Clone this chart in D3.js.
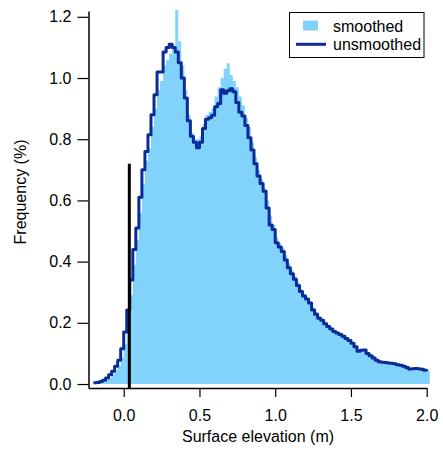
<html>
<head>
<script src="https://d3js.org/d3.v7.min.js"></script>
<style>
body { margin: 0; background: white; }
text { font-family: "Liberation Sans", Arial, sans-serif; }
</style>
</head>
<body>
<svg width="443" height="451"></svg>
<script>
// histogram bins: left edge of each bin (m)
var binWidth = 0.02;
var binEdges = d3.range(0, 111).map(function(i) { return +(-0.2 + i * binWidth).toFixed(2); });

// frequency (%) per bin
var unsmoothed = [
  0.004, 0.005, 0.008, 0.012, 0.020, 0.030, 0.042, 0.058, 0.078, 0.115,
  0.170, 0.242, 0.340, 0.440, 0.510, 0.610, 0.700, 0.760, 0.815, 0.880,
  0.945, 1.020, 1.020, 1.085, 1.100, 1.110, 1.100, 1.085, 1.050, 1.000,
  0.935, 0.860, 0.810, 0.790, 0.772, 0.790, 0.835, 0.865, 0.870, 0.878,
  0.906, 0.917, 0.962, 0.950, 0.958, 0.965, 0.955, 0.920, 0.888, 0.876,
  0.845, 0.805, 0.765, 0.720, 0.680, 0.655, 0.630, 0.575, 0.520, 0.505,
  0.462, 0.448, 0.433, 0.405, 0.380, 0.360, 0.342, 0.322, 0.302, 0.288,
  0.278, 0.265, 0.242, 0.228, 0.215, 0.208, 0.197, 0.188, 0.180, 0.172,
  0.167, 0.162, 0.156, 0.149, 0.142, 0.133, 0.122, 0.107, 0.110, 0.111,
  0.100, 0.092, 0.085, 0.078, 0.073, 0.071, 0.070, 0.069, 0.068, 0.066,
  0.063, 0.061, 0.058, 0.054, 0.049, 0.050, 0.051, 0.050, 0.048, 0.045,
  0.042
];
var smoothed = [
  0.000, 0.000, 0.003, 0.006, 0.012, 0.020, 0.032, 0.045, 0.060, 0.085,
  0.130, 0.200, 0.290, 0.390, 0.470, 0.560, 0.655, 0.730, 0.770, 0.840,
  0.900, 0.960, 0.990, 1.040, 1.060, 1.080, 1.100, 1.222, 1.120, 1.040,
  0.960, 0.880, 0.820, 0.800, 0.800, 0.810, 0.850, 0.880, 0.890, 0.900,
  0.940, 0.970, 1.000, 1.030, 1.048, 1.010, 0.990, 0.970, 0.940, 0.910,
  0.870, 0.840, 0.790, 0.740, 0.700, 0.670, 0.640, 0.600, 0.550, 0.520,
  0.480, 0.460, 0.445, 0.420, 0.395, 0.372, 0.352, 0.332, 0.310, 0.295,
  0.283, 0.270, 0.250, 0.235, 0.222, 0.212, 0.200, 0.192, 0.184, 0.176,
  0.170, 0.165, 0.158, 0.151, 0.145, 0.137, 0.126, 0.112, 0.112, 0.113,
  0.103, 0.095, 0.088, 0.081, 0.076, 0.073, 0.072, 0.071, 0.070, 0.068,
  0.065, 0.063, 0.060, 0.056, 0.052, 0.052, 0.053, 0.052, 0.050, 0.047,
  0.044
];

// vertical marker
var markerX = 0.037, markerTop = 0.72;

var xTicks = [0, 0.5, 1.0, 1.5, 2.0];
var yTicks = [0, 0.2, 0.4, 0.6, 0.8, 1.0, 1.2];

var fillColor = "#82d3fc", lineColor = "#0a2c98";

var svg = d3.select("svg");

var x = d3.scaleLinear().domain([-0.2325, 2.0]).range([88.5, 426.7]);
var y = d3.scaleLinear().domain([-0.013, 1.219]).range([388, 11]);

var smoothPts = smoothed.map(function(v, i) { return [binEdges[i], v]; });
smoothPts.push([binEdges[binEdges.length - 1] + binWidth, smoothed[smoothed.length - 1]]);

var area = d3.area()
    .curve(d3.curveStepAfter)
    .x(function(d) { return x(d[0]); })
    .y0(y(0))
    .y1(function(d) { return y(d[1]); });

svg.append("path")
    .datum(smoothPts)
    .attr("d", area)
    .attr("fill", fillColor);

var line = d3.line()
    .curve(d3.curveStepAfter)
    .x(function(d) { return x(d[0]); })
    .y(function(d) { return y(d[1]); });

svg.append("path")
    .datum(unsmoothed.map(function(v, i) { return [binEdges[i], v]; }))
    .attr("d", line)
    .attr("fill", "none")
    .attr("stroke", lineColor)
    .attr("stroke-width", 3)
    .attr("stroke-linejoin", "round");

svg.append("line")
    .attr("x1", x(markerX)).attr("x2", x(markerX))
    .attr("y1", y(markerTop)).attr("y2", y.range()[0])
    .attr("stroke", "black")
    .attr("stroke-width", 3);

// axes
var xAxis = svg.append("g")
    .attr("transform", "translate(0," + y.range()[0] + ")")
    .call(d3.axisBottom(x).tickValues(xTicks).tickFormat(d3.format(".1f"))
        .tickSize(9).tickSizeOuter(0).tickPadding(12.5));

var yAxis = svg.append("g")
    .attr("transform", "translate(" + x.range()[0] + ",0)")
    .call(d3.axisLeft(y).tickValues(yTicks).tickFormat(d3.format(".1f"))
        .tickSize(11).tickSizeOuter(0).tickPadding(6));

svg.selectAll(".domain").attr("stroke-width", 1.5);
svg.selectAll(".tick line").attr("stroke-width", 1.2);
svg.selectAll(".tick text")
    .style("font-family", "'Liberation Sans', Arial, sans-serif")
    .style("font-size", "16px")
    .attr("fill", "#000");

svg.append("text")
    .attr("x", 258).attr("y", 441.5)
    .attr("text-anchor", "middle")
    .style("font-size", "16px")
    .text("Surface elevation (m)");

svg.append("text")
    .attr("transform", "translate(26,192) rotate(-90)")
    .attr("text-anchor", "middle")
    .style("font-size", "16px")
    .text("Frequency (%)");

// legend
var legend = svg.append("g");
legend.append("rect")
    .attr("x", 289.5).attr("y", 12.5).attr("width", 134.5).attr("height", 45)
    .attr("fill", "white").attr("stroke", "black").attr("stroke-width", 1);
legend.append("rect")
    .attr("x", 303).attr("y", 20.5).attr("width", 15).attr("height", 10)
    .attr("fill", fillColor);
legend.append("line")
    .attr("x1", 296).attr("x2", 326).attr("y1", 44.3).attr("y2", 44.3)
    .attr("stroke", lineColor).attr("stroke-width", 3);
legend.append("text")
    .attr("x", 333).attr("y", 31.5)
    .style("font-size", "16px")
    .text("smoothed");
legend.append("text")
    .attr("x", 333).attr("y", 49.5)
    .style("font-size", "16px")
    .text("unsmoothed");
</script>
</body>
</html>
